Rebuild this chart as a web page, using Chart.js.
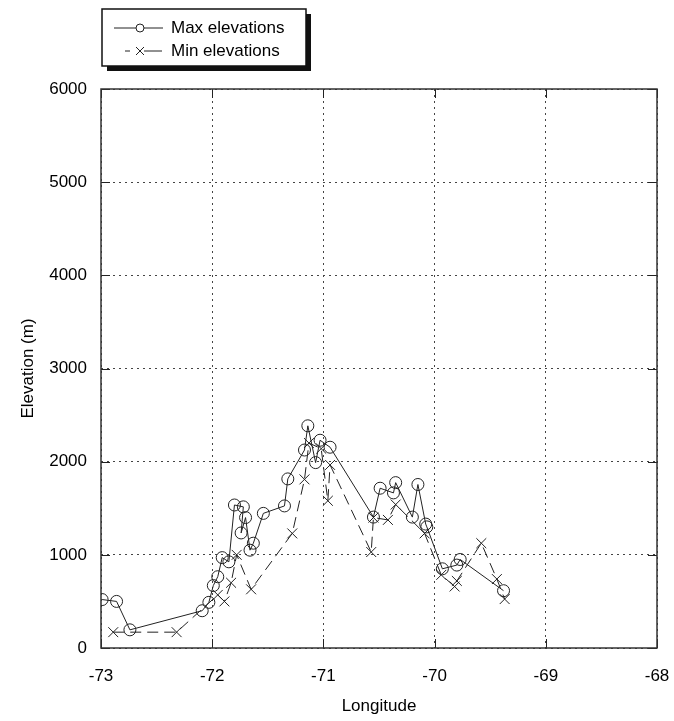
<!DOCTYPE html>
<html>
<head>
<meta charset="utf-8">
<script src="https://cdn.jsdelivr.net/npm/chart.js@4/dist/chart.umd.min.js"></script>
<style>
  html, body { margin: 0; padding: 0; background: #fff; }
  #wrap { width: 674px; height: 721px; position: relative; }
</style>
</head>
<body>
<div id="wrap"><canvas id="elev"></canvas></div>
<script>
// Max elevations along the transect (longitude, metres), in survey order
const maxLon  = [-72.99, -72.86, -72.74, -72.09, -72.03, -71.99, -71.95, -71.91, -71.85, -71.80,
                 -71.72, -71.74, -71.70, -71.66, -71.63, -71.54, -71.35, -71.32, -71.17, -71.14,
                 -71.07, -71.03, -70.94, -70.55, -70.49, -70.37, -70.35, -70.20, -70.15, -70.08,
                 -70.07, -69.93, -69.80, -69.77, -69.38];
const maxElev = [520, 500, 195, 400, 490, 670, 765, 970, 925, 1535,
                 1515, 1235, 1400, 1050, 1125, 1445, 1525, 1815, 2125, 2385,
                 1990, 2230, 2155, 1405, 1715, 1665, 1775, 1405, 1755, 1330,
                 1300, 850, 890, 950, 615];

// Min elevations
const minLon  = [-72.89, -72.32, -71.95, -71.89, -71.83, -71.78, -71.65, -71.28, -71.17, -71.13,
                 -71.02, -70.96, -70.94, -70.57, -70.55, -70.42, -70.35, -70.09, -69.94, -69.82,
                 -69.80, -69.58, -69.44, -69.37];
const minElev = [170, 170, 570, 500, 700, 1000, 630, 1230, 1810, 2200,
                 2140, 1580, 1965, 1030, 1400, 1375, 1540, 1230, 785, 660,
                 720, 1125, 740, 525];

const xTicks = [-73, -72, -71, -70, -69, -68];
const yTicks = [0, 1000, 2000, 3000, 4000, 5000, 6000];

const FONT = '"Liberation Sans", Arial, sans-serif';
const INK = '#222';

function pts(xs, ys) {
  return xs.map((x, i) => ({ x: x, y: ys[i] }));
}

// boxed legend with a drop shadow, top left above the plot
const boxLegend = {
  id: 'boxLegend',
  afterDraw(chart) {
    const c = chart.ctx;
    const x = 102, y = 9, w = 204, h = 57;
    c.save();
    c.fillStyle = '#111';
    c.fillRect(x + 5, y + 5, w, h);
    c.fillStyle = '#fff';
    c.fillRect(x, y, w, h);
    c.strokeStyle = '#111';
    c.lineWidth = 1.5;
    c.strokeRect(x, y, w, h);

    c.strokeStyle = INK;
    c.lineWidth = 1;
    // max row
    let ry = 28;
    c.beginPath(); c.moveTo(114, ry); c.lineTo(163, ry); c.stroke();
    c.fillStyle = '#fff';
    c.beginPath(); c.arc(140, ry, 4, 0, Math.PI * 2); c.fill(); c.stroke();
    // min row
    ry = 51;
    c.beginPath(); c.moveTo(125, ry); c.lineTo(130, ry); c.stroke();
    c.beginPath(); c.moveTo(144, ry); c.lineTo(162, ry); c.stroke();
    c.beginPath();
    c.moveTo(136, ry - 4); c.lineTo(144, ry + 4);
    c.moveTo(144, ry - 4); c.lineTo(136, ry + 4);
    c.stroke();

    c.fillStyle = '#000';
    c.font = '17px ' + FONT;
    c.textBaseline = 'middle';
    c.fillText('Max elevations', 171, 28);
    c.fillText('Min elevations', 171, 51);
    c.restore();
  }
};

// short inward tick marks on all four sides of the frame
const frameTicks = {
  id: 'frameTicks',
  afterDatasetsDraw(chart) {
    const c = chart.ctx, a = chart.chartArea;
    const xs = chart.scales.x, ys = chart.scales.y;
    c.save();
    c.strokeStyle = INK;
    c.lineWidth = 1;
    c.beginPath();
    yTicks.forEach(v => {
      const p = Math.round(ys.getPixelForValue(v)) + 0.5;
      c.moveTo(a.left, p); c.lineTo(a.left + 9, p);
      c.moveTo(a.right, p); c.lineTo(a.right - 9, p);
    });
    xTicks.forEach(v => {
      const p = Math.round(xs.getPixelForValue(v)) + 0.5;
      c.moveTo(p, a.bottom); c.lineTo(p, a.bottom - 9);
      c.moveTo(p, a.top); c.lineTo(p, a.top + 9);
    });
    c.stroke();
    c.strokeStyle = '#333';
    c.lineWidth = 1.5;
    c.strokeRect(a.left, a.top, a.right - a.left, a.bottom - a.top);
    c.restore();
  }
};

new Chart(document.getElementById('elev'), {
  type: 'scatter',
  data: {
    datasets: [
      {
        label: 'Max elevations',
        data: pts(maxLon, maxElev),
        showLine: true,
        borderColor: INK,
        borderWidth: 1,
        pointStyle: 'circle',
        pointRadius: 6,
        pointBorderWidth: 1,
        pointBorderColor: INK,
        pointBackgroundColor: 'rgba(0,0,0,0)'
      },
      {
        label: 'Min elevations',
        data: pts(minLon, minElev),
        showLine: true,
        borderColor: INK,
        borderWidth: 1,
        borderDash: [11, 6],
        pointStyle: 'crossRot',
        pointRadius: 7,
        pointBorderWidth: 1,
        pointBorderColor: INK
      }
    ]
  },
  options: {
    responsive: true,
    maintainAspectRatio: false,
    animation: false,
    layout: { padding: { top: 89, right: 17, left: 0, bottom: 0 } },
    plugins: {
      legend: { display: false },
      tooltip: { enabled: false }
    },
    scales: {
      x: {
        type: 'linear',
        min: -73,
        max: -68,
        afterBuildTicks(s) { s.ticks = xTicks.map(v => ({ value: v })); },
        afterFit(s) {
          s.height = 73;
          s.paddingLeft = 0;
          s.paddingRight = 0;
        },
        grid: {
          color: '#444',
          lineWidth: 1,
          drawTicks: false
        },
        border: { display: false, dash: [2, 4] },
        ticks: {
          color: '#000',
          padding: 18,
          font: { family: FONT, size: 17 },
          callback: v => String(v)
        },
        title: {
          display: true,
          text: 'Longitude',
          color: '#000',
          padding: { top: 4 },
          font: { family: FONT, size: 17 }
        }
      },
      y: {
        type: 'linear',
        min: 0,
        max: 6000,
        afterBuildTicks(s) { s.ticks = yTicks.map(v => ({ value: v })); },
        afterFit(s) { s.width = 101; },
        grid: {
          color: '#444',
          lineWidth: 1,
          drawTicks: false
        },
        border: { display: false, dash: [2, 4] },
        ticks: {
          color: '#000',
          padding: 14,
          font: { family: FONT, size: 17 },
          callback: v => String(v)
        },
        title: {
          display: true,
          text: 'Elevation (m)',
          color: '#000',
          padding: { top: 18, bottom: 4 },
          font: { family: FONT, size: 17 }
        }
      }
    }
  },
  plugins: [boxLegend, frameTicks]
});
</script>
</body>
</html>
